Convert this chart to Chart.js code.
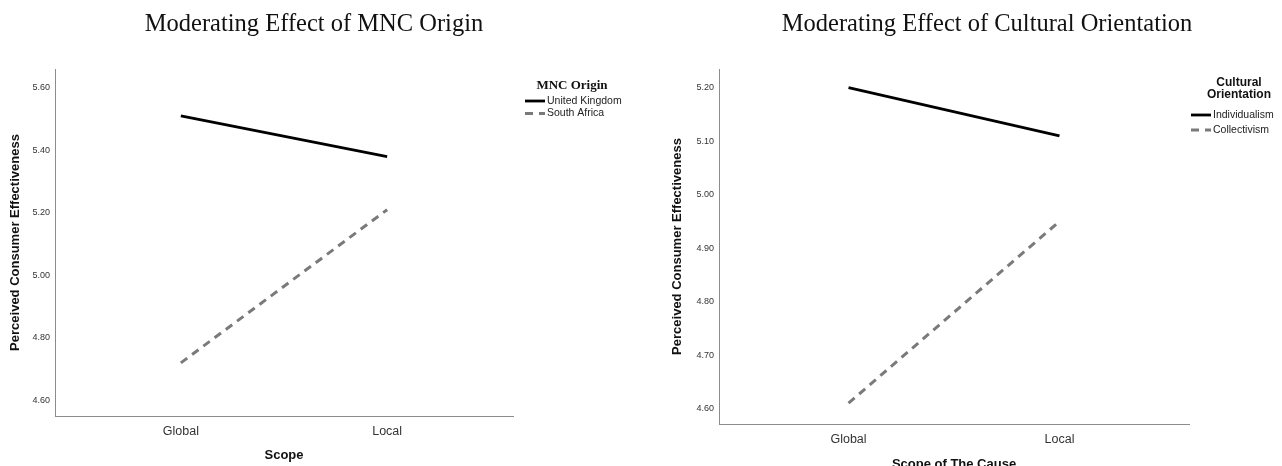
<!DOCTYPE html>
<html>
<head>
<meta charset="utf-8">
<script src="https://cdn.jsdelivr.net/npm/chart.js@4"></script>
<style>
  body { margin: 0; background: #fff; }
  .panel { position: absolute; top: 0; }
</style>
</head>
<body>
<div class="panel" style="left:0"><canvas id="mncChart" width="640" height="466"></canvas></div>
<div class="panel" style="left:640px"><canvas id="cultChart" width="642" height="466"></canvas></div>
<script>
// data
const scopeLabels = ['Global', 'Local'];
const ukValues = [5.51, 5.38];
const saValues = [4.72, 5.21];
const indivValues = [5.20, 5.11];
const collValues = [4.61, 4.95];
const mncTicks = [4.60, 4.80, 5.00, 5.20, 5.40, 5.60];
const cultTicks = [4.60, 4.70, 4.80, 4.90, 5.00, 5.10, 5.20];

const SANS = '"Liberation Sans", Arial, sans-serif';
const SERIF = '"Liberation Serif", "Times New Roman", serif';

function toPoints(values) {
  return values.map((v, i) => ({ x: i, y: v }));
}

// draws the big serif title and the SPSS-style legend off to the right
const decorPlugin = {
  id: 'decor',
  afterDraw(chart, args, opts) {
    const ctx = chart.ctx;
    ctx.save();
    ctx.fillStyle = '#111';
    ctx.font = '24.5px ' + SERIF;
    ctx.textAlign = 'center';
    ctx.textBaseline = 'alphabetic';
    ctx.fillText(opts.title, opts.titleX, 31);

    ctx.font = opts.legendTitleFont;
    ctx.textBaseline = 'middle';
    opts.legendTitle.forEach((t, i) => {
      ctx.fillText(t, opts.legendTitleX, opts.legendTitleY + i * opts.legendTitleGap);
    });

    ctx.font = '10.5px ' + SANS;
    ctx.textAlign = 'left';
    chart.data.datasets.forEach((ds, i) => {
      const y = opts.legendY + i * opts.legendGap;
      ctx.beginPath();
      ctx.strokeStyle = ds.borderColor;
      ctx.lineWidth = ds.borderWidth;
      ctx.setLineDash(ds.borderDash || []);
      ctx.moveTo(opts.legendX, y);
      ctx.lineTo(opts.legendX + 20, y);
      ctx.stroke();
      ctx.setLineDash([]);
      ctx.fillStyle = '#222';
      ctx.fillText(ds.label, opts.legendX + 22, y);
    });
    ctx.restore();
  }
};

function makeChart(id, cfg) {
  return new Chart(document.getElementById(id), {
    type: 'line',
    data: {
      datasets: [{
        label: cfg.names[0],
        data: toPoints(cfg.series[0]),
        borderColor: '#000',
        borderWidth: 2.8,
        pointRadius: 0
      }, {
        label: cfg.names[1],
        data: toPoints(cfg.series[1]),
        borderColor: '#7a7a7a',
        borderWidth: 3,
        borderDash: [8, 6],
        pointRadius: 0
      }]
    },
    options: {
      responsive: false,
      animation: false,
      devicePixelRatio: 1,
      layout: { padding: { top: 69, right: cfg.padRight, left: 0, bottom: 0 } },
      plugins: {
        legend: { display: false },
        tooltip: { enabled: false },
        decor: cfg.decor
      },
      scales: {
        x: {
          type: 'linear',
          min: cfg.xMin,
          max: cfg.xMax,
          afterBuildTicks: s => { s.ticks = scopeLabels.map((_, i) => ({ value: i })); },
          afterFit: s => { s.height = cfg.xHeight; },
          grid: { display: false, drawTicks: false },
          border: { color: '#8c8c8c', width: 1 },
          ticks: {
            padding: 8,
            color: '#333',
            font: { family: SANS, size: 12.5 },
            callback: v => scopeLabels[v]
          },
          title: {
            display: true,
            text: cfg.xTitle,
            color: '#111',
            font: { family: SANS, size: 13, weight: 'bold' },
            padding: { top: 0, bottom: cfg.xTitlePad }
          }
        },
        y: {
          min: cfg.yMin,
          max: cfg.yMax,
          afterBuildTicks: s => { s.ticks = cfg.yTicks.map(v => ({ value: v })); },
          afterFit: s => { s.width = cfg.yWidth; },
          grid: { display: false, drawTicks: false },
          border: { color: '#8c8c8c', width: 1 },
          ticks: {
            padding: 5,
            color: '#333',
            font: { family: SANS, size: 9 },
            callback: v => v.toFixed(2)
          },
          title: {
            display: true,
            text: 'Perceived Consumer Effectiveness',
            color: '#111',
            font: { family: SANS, size: 13, weight: 'bold' },
            padding: { top: cfg.yTitlePad, bottom: 0 }
          }
        }
      }
    },
    plugins: [decorPlugin]
  });
}

makeChart('mncChart', {
  names: ['United Kingdom', 'South Africa'],
  series: [ukValues, saValues],
  yTicks: mncTicks,
  yMin: 4.55, yMax: 5.66,
  xMin: -0.61, xMax: 1.61,
  padRight: 127, xHeight: 50, yWidth: 55,
  xTitle: 'Scope', xTitlePad: 3, yTitlePad: 8,
  decor: {
    title: 'Moderating Effect of MNC Origin', titleX: 314,
    legendTitle: ['MNC Origin'], legendTitleFont: 'bold 13px ' + SERIF,
    legendTitleX: 572, legendTitleY: 86, legendTitleGap: 0,
    legendX: 525, legendY: 101, legendGap: 12.6
  }
});

makeChart('cultChart', {
  names: ['Individualism', 'Collectivism'],
  series: [indivValues, collValues],
  yTicks: cultTicks,
  yMin: 4.571, yMax: 5.235,
  xMin: -0.614, xMax: 1.614,
  padRight: 93, xHeight: 42, yWidth: 79,
  xTitle: 'Scope of The Cause', xTitlePad: -6, yTitlePad: 30,
  decor: {
    title: 'Moderating Effect of Cultural Orientation', titleX: 347,
    legendTitle: ['Cultural', 'Orientation'], legendTitleFont: 'bold 12px ' + SANS,
    legendTitleX: 599, legendTitleY: 83, legendTitleGap: 11.5,
    legendX: 551, legendY: 115, legendGap: 15
  }
});
</script>
</body>
</html>
